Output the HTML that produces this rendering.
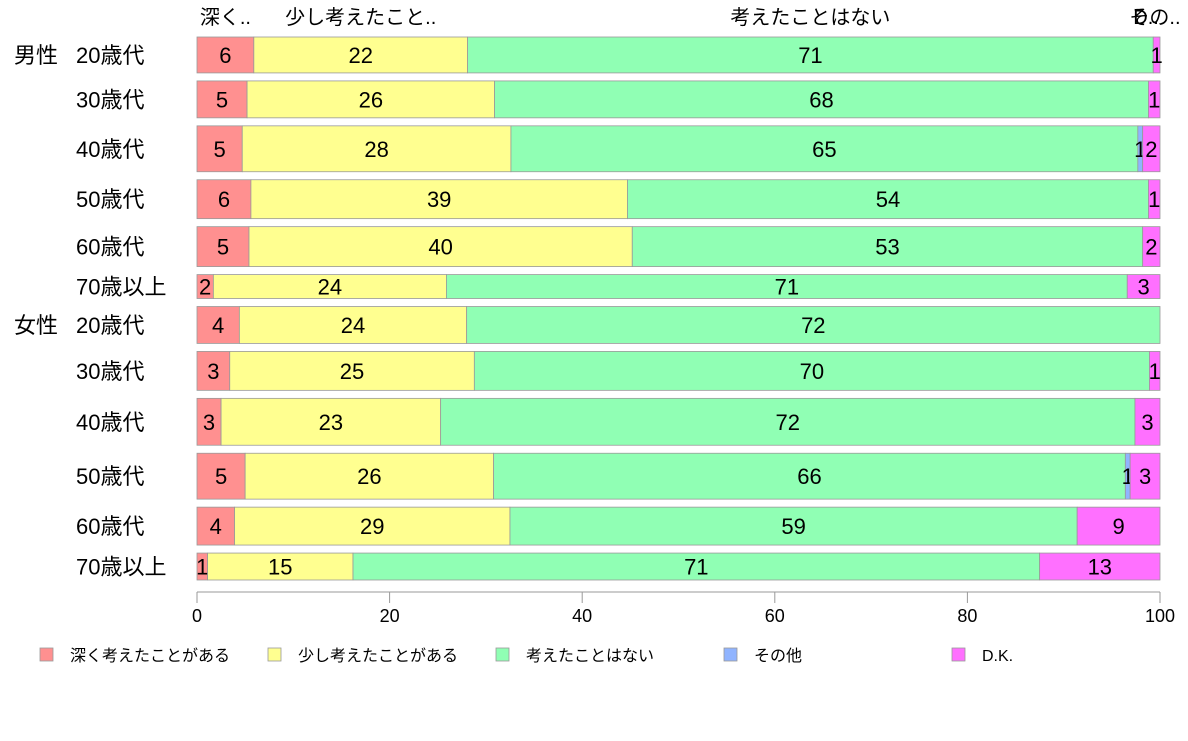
<!DOCTYPE html>
<html><head><meta charset="utf-8"><style>
body{margin:0;background:#fff;width:1188px;height:736px;overflow:hidden}
svg text{font-family:"Liberation Sans","Noto Sans CJK JP",sans-serif;fill:#000}
</style></head><body>
<svg id="c" width="1188" height="736"></svg>
<script>
const groups=["男性","","","","","","女性","","","","",""];
const ages=["20歳代","30歳代","40歳代","50歳代","60歳代","70歳以上","20歳代","30歳代","40歳代","50歳代","60歳代","70歳以上"];
const sampleSize=[36,37,46,39,40,24,37,39,47,46,38,27];
const seriesNames=["深く考えたことがある","少し考えたことがある","考えたことはない","その他","D.K."];
const headerLabels=["深く..","少し考えたこと..","考えたことはない","その..","D.."];
const deep=[5.9,5.2,4.7,5.6,5.4,1.7,4.4,3.4,2.5,5.0,3.9,1.1];
const some=[22.2,25.7,27.9,39.1,39.8,24.2,23.6,25.4,22.8,25.8,28.6,15.1];
const never=[71.2,67.9,65.1,54.1,53.0,70.7,72.0,70.1,72.1,65.6,58.9,71.3];
const other=[0,0,0.5,0,0,0,0,0,0,0.5,0,0];
const dk=[0.7,1.2,1.8,1.2,1.8,3.4,0,1.1,2.6,3.1,8.6,12.5];
const ticks=[0,20,40,60,80,100];
const colors=["#ff9090","#ffff90","#90ffb4","#90b4ff","#ff70ff"];
const series=[deep,some,never,other,dk];
const NS="http://www.w3.org/2000/svg",svg=document.getElementById('c');
function el(t,a,txt){const e=document.createElementNS(NS,t);for(const k in a)e.setAttribute(k,a[k]);if(txt!==undefined)e.textContent=txt;svg.appendChild(e);return e;}
const x0=197,x1=1160,plotTop=37,plotBottom=580,gap=8;
const xs=v=>x0+(x1-x0)*v/100;
const totalN=sampleSize.reduce((a,b)=>a+b,0);
const unit=(plotBottom-plotTop-gap*(sampleSize.length-1))/totalN;
let yy=plotTop;
sampleSize.forEach((n,i)=>{
  const h=n*unit;let cum=0;
  series.forEach((s,j)=>{
    const v=s[i];if(v<=0)return;
    const r=el('rect',{x:xs(cum),y:yy,width:xs(cum+v)-xs(cum),height:h,fill:colors[j],stroke:'#999','stroke-width':0.8});
    
    
    const lv=Math.round(v);
    if(lv>0){const t=el('text',{x:(xs(cum)+xs(cum+v))/2,y:yy+h/2+8,'text-anchor':'middle','font-size':22},String(lv));
      
      }
    cum+=v;
  });
  const t=el('text',{x:76,y:yy+h/2+8,'font-size':22},ages[i]);
  
  
  if(groups[i]){const g=el('text',{x:14,y:yy+h/2+8,'font-size':22},groups[i]);
    
    }
  yy+=h+gap;
});
const hx=[[0,deep[0]],[deep[0],deep[0]+some[0]],[deep[0]+some[0],deep[0]+some[0]+never[0]],[98.9,99.6],[99.3,100]];
headerLabels.forEach((lab,j)=>{
  const t=el('text',{x:j>=3?xs(hx[j][0])-20:(xs(hx[j][0])+xs(hx[j][1]))/2,y:24,'text-anchor':j>=3?'start':'middle','font-size':20},lab);
  
  
});
const ax=el('line',{x1:x0,x2:x1,y1:592,y2:592,stroke:'#999'});


ticks.forEach(v=>{
  const l=el('line',{x1:xs(v),x2:xs(v),y1:592,y2:603,stroke:'#999'});
  
  
  const t=el('text',{x:xs(v),y:622,'text-anchor':'middle','font-size':18},String(v));
  
  
});
const lx=[40,268,496,724,952];
seriesNames.forEach((nm,j)=>{
  const r=el('rect',{x:lx[j],y:648,width:13,height:13,fill:colors[j],stroke:'#999','stroke-width':0.8});
  
  
  const t=el('text',{x:lx[j]+30,y:661,'font-size':16},nm);
  
  
});
</script>
</body></html>
